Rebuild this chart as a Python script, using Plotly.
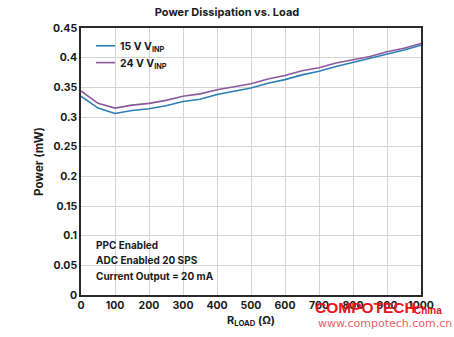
import plotly.graph_objects as go

# Load resistance (ohm) and measured power dissipation (mW)
r_load = [0, 50, 100, 150, 200, 250, 300, 350, 400, 450, 500,
          550, 600, 650, 700, 750, 800, 850, 900, 950, 1000]
p_15v = [0.335, 0.315, 0.306, 0.311, 0.314, 0.319, 0.326, 0.330, 0.338, 0.343, 0.349,
         0.357, 0.363, 0.371, 0.377, 0.385, 0.392, 0.398, 0.406, 0.413, 0.421]
p_24v = [0.344, 0.323, 0.315, 0.320, 0.323, 0.328, 0.335, 0.339, 0.346, 0.351, 0.356,
         0.364, 0.370, 0.378, 0.383, 0.391, 0.396, 0.402, 0.410, 0.416, 0.424]

series_names = ["15 V V<sub>INP</sub>", "24 V V<sub>INP</sub>"]
series_colors = ["#2c7fb6", "#8a5a9c"]

x_ticks = [0, 100, 200, 300, 400, 500, 600, 700, 800, 900, 1000]
y_ticks = [0, 0.05, 0.1, 0.15, 0.2, 0.25, 0.3, 0.35, 0.4, 0.45]
y_tick_text = ["0", "0.05", "0.1", "0.15", "0.2", "0.25", "0.3", "0.35", "0.4", "0.45"]

conditions = ["PPC Enabled", "ADC Enabled 20 SPS", "Current Output = 20 mA"]

FONT = "Inter"
TXT = "#1a1a1a"

fig = go.Figure()
for name, ys, col in zip(series_names, [p_15v, p_24v], series_colors):
    fig.add_trace(go.Scatter(x=r_load, y=ys, mode="lines", name=name,
                             line=dict(color=col, width=1.6), showlegend=False))

W, H = 454, 337
ml, mr, mt, mb = 81, 33, 28, 39
pw, ph = W - ml - mr, H - mt - mb


def px(x):
    return (x - ml) / pw


def py(y):
    return (H - mb - y) / ph


shapes = []
annotations = []

# Legend: white panel, line samples and labels
shapes.append(dict(type="rect", xref="paper", yref="paper", layer="between",
                   x0=px(88), x1=px(172), y0=py(73), y1=py(36),
                   fillcolor="white", line=dict(width=0)))
for i, (name, col) in enumerate(zip(series_names, series_colors)):
    yy = 46 + 17 * i
    shapes.append(dict(type="line", xref="paper", yref="paper",
                       x0=px(96), x1=px(115), y0=py(yy), y1=py(yy),
                       line=dict(color=col, width=1.6)))
    annotations.append(dict(xref="paper", yref="paper", x=px(118), y=py(yy + 1),
                            xanchor="left", yanchor="middle", showarrow=False,
                            text=name, font=dict(family=FONT, size=10.5, color=TXT, weight=700)))

# Test-condition note
shapes.append(dict(type="rect", xref="paper", yref="paper", layer="between",
                   x0=px(90), x1=px(215), y0=py(292), y1=py(233),
                   fillcolor="white", line=dict(width=0)))
for i, line in enumerate(conditions):
    annotations.append(dict(xref="paper", yref="paper", x=px(94), y=py(247 + 15.7 * i),
                            xanchor="left", yanchor="middle", showarrow=False,
                            text=line, font=dict(family=FONT, size=10, color=TXT, weight=700)))

# Watermark
annotations.append(dict(xref="paper", yref="paper", x=px(313), y=py(311),
                        xanchor="left", yanchor="middle", showarrow=False,
                        text="COMPOTECH",
                        font=dict(family="Liberation Sans", size=15.5,
                                  color="#e8141c", weight=700)))
annotations.append(dict(xref="paper", yref="paper", x=px(412), y=py(314),
                        xanchor="left", yanchor="middle", showarrow=False,
                        text="China",
                        font=dict(family="Liberation Sans", size=10,
                                  color="#e8141c", weight=700)))
annotations.append(dict(xref="paper", yref="paper", x=px(316), y=py(327),
                        xanchor="left", yanchor="middle", showarrow=False,
                        text="www.compotech.com.cn",
                        font=dict(family="DejaVu Sans", size=11, color="#e6606a")))

fig.update_layout(
    width=W, height=H,
    margin=dict(l=ml, r=mr, t=mt, b=mb),
    paper_bgcolor="white", plot_bgcolor="white",
    title=dict(text="Power Dissipation vs. Load", x=px(251), xanchor="center",
               y=1 - 12 / H, yanchor="middle",
               font=dict(family=FONT, size=11, color=TXT, weight=700)),
    font=dict(family=FONT, color=TXT),
    shapes=shapes,
    annotations=annotations,
)

fig.update_xaxes(range=[0, 1000], tickvals=x_ticks, ticks="", showgrid=True,
                 gridcolor="#d4d4d4", gridwidth=1, zeroline=False,
                 showline=True, linecolor="#2a2a2a", linewidth=1.5, mirror=True,
                 tickfont=dict(family=FONT, size=10.5, color=TXT, weight=700),
                 title=dict(text="R<sub>LOAD</sub> (Ω)", standoff=5,
                            font=dict(family=FONT, size=11, color=TXT, weight=700)))
fig.update_yaxes(range=[0, 0.45], tickvals=y_ticks, ticktext=y_tick_text, ticks="",
                 showgrid=True, gridcolor="#d4d4d4", gridwidth=1, zeroline=False,
                 showline=True, linecolor="#2a2a2a", linewidth=1.5, mirror=True,
                 tickfont=dict(family=FONT, size=10.5, color=TXT, weight=700),
                 title=dict(text="Power (mW)", standoff=7,
                            font=dict(family=FONT, size=11.5, color=TXT, weight=700)))

fig.write_html("out.html")
